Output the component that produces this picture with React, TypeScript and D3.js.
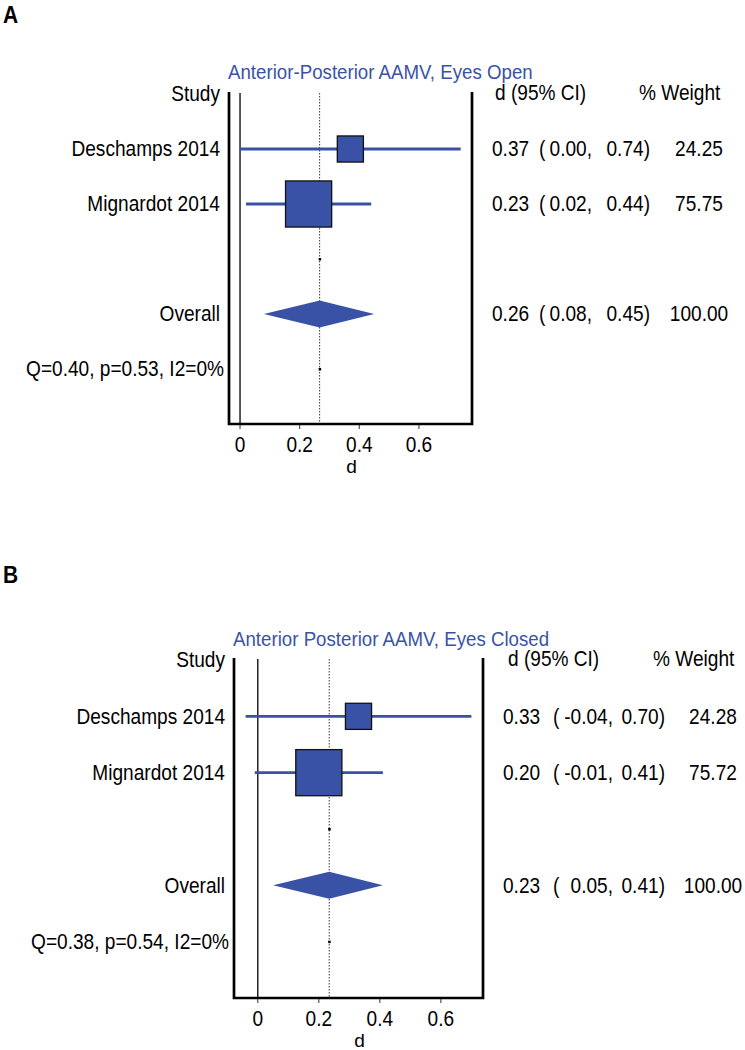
import React from "react";
import * as d3 from "d3";

// ---------- data ----------
const studies = ["Deschamps 2014", "Mignardot 2014"];

const titleA = "Anterior-Posterior AAMV, Eyes Open";
const esA = [0.37, 0.23];
const lowA = [0.0, 0.02];
const highA = [0.74, 0.44];
const weightA = [24.25, 75.75];
const overallA = [0.26, 0.08, 0.45];
const pooledLineA = 0.267;
const hetA = "Q=0.40, p=0.53, I2=0%";

const titleB = "Anterior Posterior AAMV, Eyes Closed";
const esB = [0.33, 0.2];
const lowB = [-0.04, -0.01];
const highB = [0.7, 0.41];
const weightB = [24.28, 75.72];
const overallB = [0.23, 0.05, 0.41];
const pooledLineB = 0.234;
const hetB = "Q=0.38, p=0.54, I2=0%";

const xTicks = [0, 0.2, 0.4, 0.6];
const xTickLabels = ["0", "0.2", "0.4", "0.6"];

// ---------- styling ----------
const BLUE = "#3a52a5";
const FONT = "'Liberation Sans', Arial, Helvetica, sans-serif";
const FS = 19.1;
const STRETCH = 1.12;

type TProps = {
  x: number;
  y: number;
  anchor?: "start" | "middle" | "end";
  fill?: string;
  size?: number;
  weight?: string;
  stretch?: number;
  children: React.ReactNode;
};

function T({ x, y, anchor = "start", fill = "#000", size = FS, weight = "normal", stretch = STRETCH, children }: TProps) {
  return (
    <text
      transform={`translate(${x},${y}) scale(1,${stretch})`}
      textAnchor={anchor}
      dominantBaseline="central"
      style={{ fontFamily: FONT, fontSize: size, fill, fontWeight: weight }}
    >
      {children}
    </text>
  );
}

type PanelProps = {
  letter: string;
  letterY: number;
  title: string;
  titleY: number;
  es: number[];
  low: number[];
  high: number[];
  weight: number[];
  overall: number[];
  pooled: number;
  het: string;
  xDomain: [number, number];
  xRange: [number, number];
  row0: number;
  rowEnd: number;
  labelRight: number;
  ciStart: number;
  ciOffsets: [number, number, number];
  weightCenter: number;
  headerCiX: number;
  headerWX: number;
};

function Panel(p: PanelProps) {
  const x = d3.scaleLinear().domain(p.xDomain).range(p.xRange);
  const y = d3.scaleLinear().domain([0, 6]).range([p.row0, p.rowEnd]);
  const size = d3.scaleSqrt().domain([0, 100]).range([0, 53]);
  const [left, right] = p.xRange;
  const top = p.row0 - 2;
  const bottom = p.rowEnd;

  const diamond = d3.line()([
    [x(p.overall[1]), y(4)],
    [x(p.pooled), y(4) - 13.5],
    [x(p.overall[2]), y(4)],
    [x(p.pooled), y(4) + 13.5],
  ] as [number, number][]);

  const ciRow = (est: number, lo: number, hi: number, yy: number, key: string) => (
    <g key={key}>
      <T x={p.ciStart} y={yy}>{est.toFixed(2)}</T>
      <T x={p.ciStart + p.ciOffsets[0]} y={yy}>(</T>
      <T x={p.ciStart + p.ciOffsets[1]} y={yy} anchor="end">{lo.toFixed(2) + ","}</T>
      <T x={p.ciStart + p.ciOffsets[2]} y={yy} anchor="end">{hi.toFixed(2) + ")"}</T>
    </g>
  );

  return (
    <g>
      <T x={3} y={p.letterY} size={21} weight="bold">{p.letter}</T>
      <T x={left - 1} y={p.titleY} fill={BLUE} size={18.7}>{p.title}</T>

      {/* headers */}
      <T x={p.labelRight} y={y(0)} anchor="end">Study</T>
      <T x={p.headerCiX} y={y(0) - 1}>d (95% CI)</T>
      <T x={p.headerWX} y={y(0) - 1}>% Weight</T>

      {/* zero line */}
      <line x1={x(0)} x2={x(0)} y1={top + 1} y2={bottom} stroke="#000" strokeWidth={1.3} />
      {/* pooled dotted line */}
      <line x1={x(p.pooled)} x2={x(p.pooled)} y1={top + 1} y2={bottom} stroke="#222" strokeWidth={0.9} strokeDasharray="1.5,1.5" />

      {/* studies */}
      {studies.map((s, i) => {
        const yy = y(i + 1);
        const sz = size(p.weight[i]);
        return (
          <g key={s}>
            <T x={p.labelRight} y={yy} anchor="end">{s}</T>
            <line x1={x(p.low[i])} x2={x(p.high[i])} y1={yy} y2={yy} stroke={BLUE} strokeWidth={2.8} />
            <rect x={x(p.es[i]) - sz / 2} y={yy - sz / 2} width={sz} height={sz} fill={BLUE} stroke="#111" strokeWidth={1.3} />
            {ciRow(p.es[i], p.low[i], p.high[i], yy, "ci" + i)}
            <T x={p.weightCenter} y={yy} anchor="middle">{p.weight[i].toFixed(2)}</T>
          </g>
        );
      })}

      {/* small markers on pooled line */}
      <rect x={x(p.pooled) - 1} y={y(3) - 1} width={2.5} height={2.5} fill="#000" />
      <rect x={x(p.pooled) - 1} y={y(5) - 1} width={2.5} height={2.5} fill="#000" />

      {/* overall */}
      <T x={p.labelRight} y={y(4)} anchor="end">Overall</T>
      <path d={diamond || ""} fill={BLUE} />
      {ciRow(p.overall[0], p.overall[1], p.overall[2], y(4), "ov")}
      <T x={p.weightCenter} y={y(4)} anchor="middle">{(100).toFixed(2)}</T>

      {/* heterogeneity */}
      <T x={p.labelRight + 4} y={y(5)} anchor="end">{p.het}</T>

      {/* frame */}
      <path d={`M${left},${top}V${bottom}H${right}V${top}`} fill="none" stroke="#000" strokeWidth={2.7} />

      {/* axis */}
      {xTicks.map((t, i) => (
        <g key={t}>
          <line x1={x(t)} x2={x(t)} y1={bottom + 1} y2={bottom + 5} stroke="#333" strokeWidth={1} />
          <T x={x(t)} y={bottom + 20.5} anchor="middle">{xTickLabels[i]}</T>
        </g>
      ))}
      <T x={(left + right) / 2 + 1} y={bottom + 42.5} anchor="middle" stretch={1}>d</T>
    </g>
  );
}

export default function App() {
  return (
    <svg
      width={745}
      height={1050}
      viewBox="0 0 745 1050"
      style={{ position: "absolute", left: 0, top: 0, background: "#fff" }}
    >
      <rect width={745} height={1050} fill="#fff" />
      <Panel
        letter="A"
        letterY={15}
        title={titleA}
        titleY={72}
        es={esA}
        low={lowA}
        high={highA}
        weight={weightA}
        overall={overallA}
        pooled={pooledLineA}
        het={hetA}
        xDomain={[-0.037, 0.778]}
        xRange={[229, 472]}
        row0={94}
        rowEnd={424}
        labelRight={220}
        ciStart={492}
        ciOffsets={[47, 100, 158]}
        weightCenter={699}
        headerCiX={495}
        headerWX={639}
      />
      <Panel
        letter="B"
        letterY={575}
        title={titleB}
        titleY={639}
        es={esB}
        low={lowB}
        high={highB}
        weight={weightB}
        overall={overallB}
        pooled={pooledLineB}
        het={hetB}
        xDomain={[-0.078, 0.738]}
        xRange={[234, 483]}
        row0={660}
        rowEnd={998}
        labelRight={225}
        ciStart={503}
        ciOffsets={[50, 110, 162]}
        weightCenter={713}
        headerCiX={508}
        headerWX={653}
      />
    </svg>
  );
}
